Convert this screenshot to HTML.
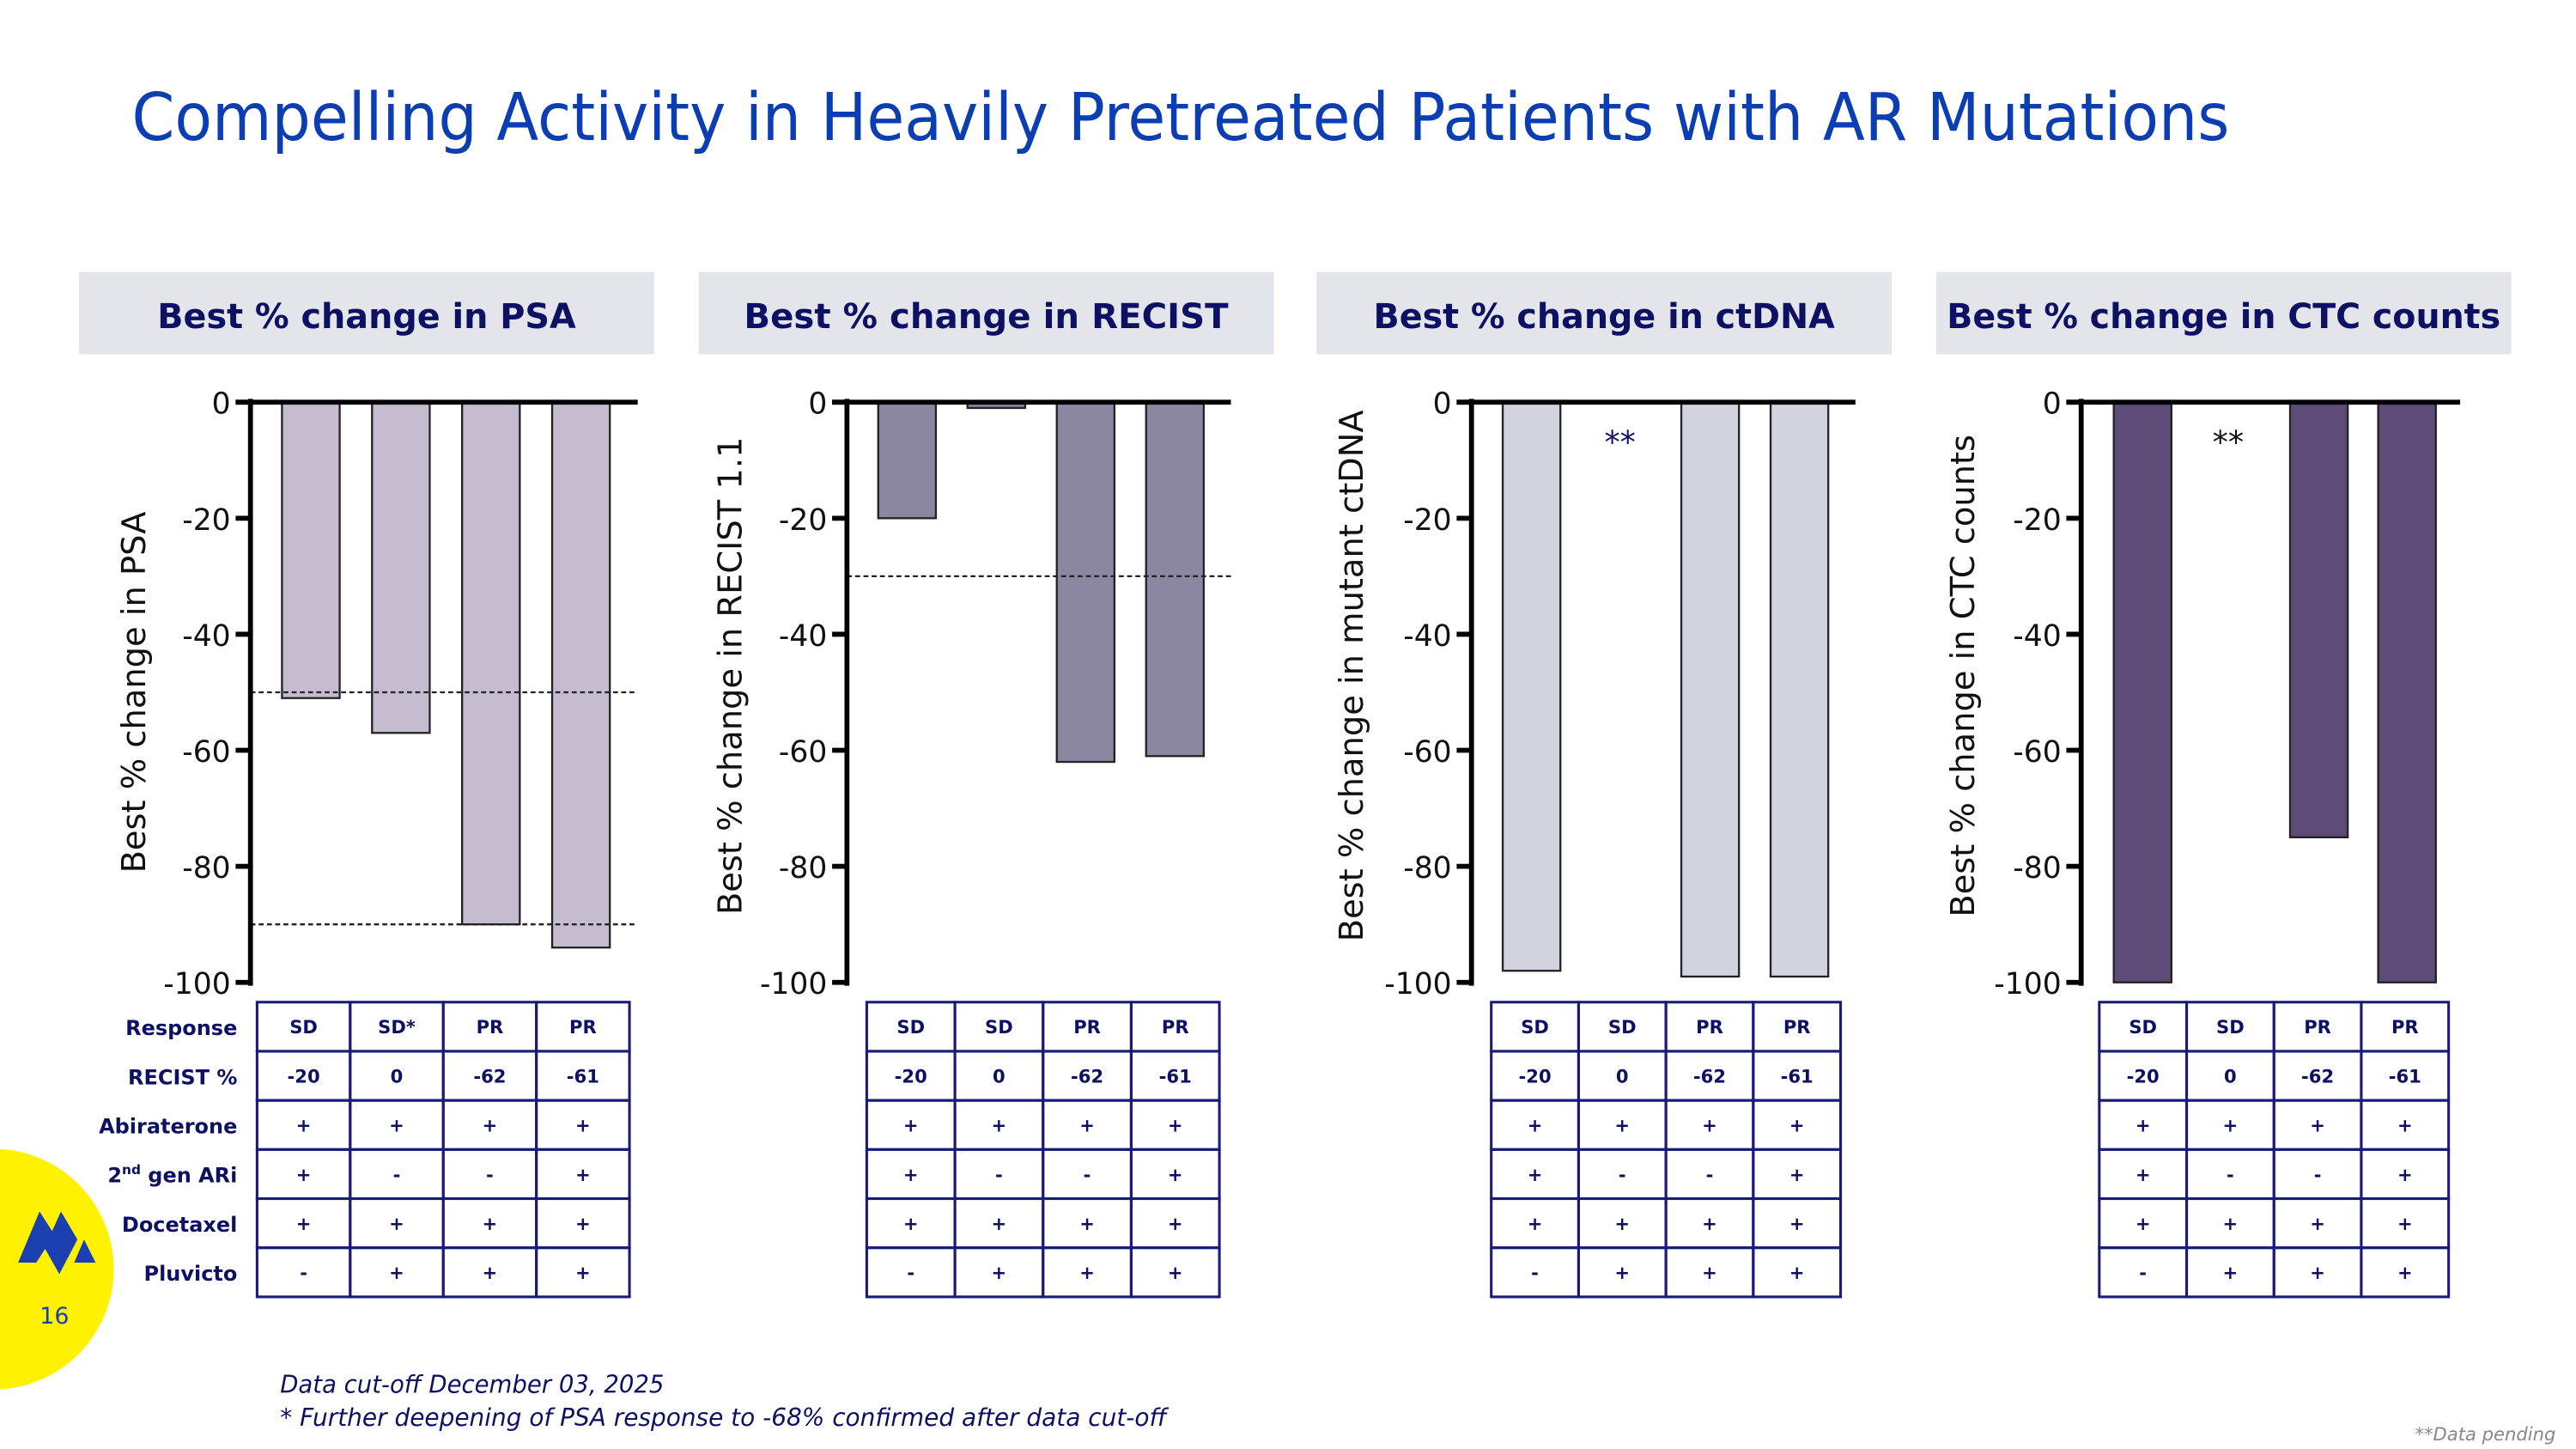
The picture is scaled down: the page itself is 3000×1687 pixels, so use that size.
<!DOCTYPE html>
<html><head><meta charset="utf-8"><style>
html,body{margin:0;padding:0;background:#fff;}
svg{display:block;}
text{font-family:"DejaVu Sans","Liberation Sans",sans-serif;}
</style></head><body>
<svg id="s" width="3000" height="1687" viewBox="0 0 1563.3 879.1" xmlns="http://www.w3.org/2000/svg">
<text x="80" y="85" font-size="40" fill="#0b3db3" textLength="1273" lengthAdjust="spacingAndGlyphs">Compelling Activity in Heavily Pretreated Patients with AR Mutations</text>
<circle cx="-4" cy="770" r="73" fill="#fff200"/>
<g fill="#1a3fb0">
<polygon points="11,766 24,735 33,749 22,766"/>
<polygon points="27,757 37,735 47,752 36,773"/>
<polygon points="45,766 51,752 58,766"/>
</g>
<text x="33" y="803" font-size="14" fill="#1a3fb0" text-anchor="middle">16</text>
<text x="170" y="845" font-size="15" font-style="italic" fill="#0d1163" textLength="233" lengthAdjust="spacingAndGlyphs">Data cut-off December 03, 2025</text>
<text x="170" y="865" font-size="15" font-style="italic" fill="#0d1163" textLength="538" lengthAdjust="spacingAndGlyphs">* Further deepening of PSA response to -68% confirmed after data cut-off</text>
<text x="1551" y="874" font-size="11" font-style="italic" fill="#888" text-anchor="end">**Data pending</text>
<g id="charts"></g>
</svg>
<script>
const titles=["Best % change in PSA","Best % change in RECIST","Best % change in ctDNA","Best % change in CTC counts"];
const titleLens=[254,294,280,336];
const yLabels=["Best % change in PSA","Best % change in RECIST 1.1","Best % change in mutant ctDNA","Best % change in CTC counts"];
const psaValues=[-51,-57,-90,-94];
const recistValues=[-20,-1,-62,-61];
const ctdnaValues=[-98,null,-99,-99];
const ctcValues=[-100,null,-75,-100];
const yTicks=[0,-20,-40,-60,-80,-100];
const psaRefLines=[-50,-90];
const recistRefLines=[-30];
const rowLabels=["Response","RECIST %","Abiraterone","2nd gen ARi","Docetaxel","Pluvicto"];
const responses=["SD","SD*","PR","PR"];
const responses2=["SD","SD","PR","PR"];
const recistPct=["-20","0","-62","-61"];
const abiraterone=["+","+","+","+"];
const secondGenARi=["+","-","-","+"];
const docetaxel=["+","+","+","+"];
const pluvicto=["-","+","+","+"];

const NS="http://www.w3.org/2000/svg";
const root=document.getElementById('charts');
function mk(tag,attrs,parent,text){const e=document.createElementNS(NS,tag);for(const k in attrs)e.setAttribute(k,attrs[k]);if(text!==undefined)e.textContent=text;(parent||root).appendChild(e);return e;}
const panels=[
 {hx:48,ax:152,end:387,vals:psaValues,refs:psaRefLines,color:"#c5bcd0",tx:156,tw:226,resp:responses,ylx:82,labels:true},
 {hx:424,ax:514,end:747,vals:recistValues,refs:recistRefLines,color:"#8b87a3",tx:526,tw:214,resp:responses2,ylx:444},
 {hx:799,ax:893,end:1126,vals:ctdnaValues,refs:[],color:"#d3d3de",tx:905,tw:212,resp:responses2,ylx:821,star:"#0d1163"},
 {hx:1175,ax:1263,end:1493,vals:ctcValues,refs:[],color:"#5e4b78",tx:1274,tw:212,resp:responses2,ylx:1192,star:"#111"}
];
const y0=244,y100=596;
const yS=v=>y0+(y100-y0)*(-v/100);
panels.forEach((p,i)=>{
 const g=mk('g',{});
 
 
 const hb=mk('rect',{x:p.hx,y:165,width:349,height:50,fill:"#e4e4eb"},g);
 
 
 const ht=mk('text',{x:p.hx+174.5,y:199,'font-size':21,'font-weight':'bold',fill:'#0d1163','text-anchor':'middle',textLength:titleLens[i],lengthAdjust:'spacingAndGlyphs'},g,titles[i]);
 
 
 const yl=mk('text',{x:0,y:0,'font-size':20,fill:'#111','text-anchor':'middle',transform:`translate(${p.ylx+6},${i==0?420:410}) rotate(-90)`},g,yLabels[i]);
 
 
 const slot=(p.end-p.ax)/4.3;
 p.vals.forEach((v,j)=>{
  if(v===null)return;
  const bx=p.ax+slot*0.35+slot*j+(i==3?slot*0.02:0);
  const b=mk('rect',{x:bx,y:y0,width:35,height:Math.max(yS(v)-y0,1),fill:p.color,stroke:'#222','stroke-width':1.2},g);
  
  
 });
 p.vals.forEach((v,j)=>{
  if(v!==null||!p.star)return;
  const st=mk('text',{x:p.ax+slot*0.35+slot*j+17,y:275,'font-size':19,fill:p.star,'text-anchor':'middle'},g,'**');
  
  
 });
 p.refs.forEach(r=>{
  const l=mk('line',{x1:p.ax,x2:p.end,y1:yS(r),y2:yS(r),stroke:'#222','stroke-width':1.2,'stroke-dasharray':'3,2'},g);
  
  
 });
 const ax=mk('line',{x1:p.ax,x2:p.ax,y1:y0-2,y2:y100+2,stroke:'#000','stroke-width':3},g);
 
 
 const zl=mk('line',{x1:p.ax-9,x2:p.end,y1:y0,y2:y0,stroke:'#000','stroke-width':3},g);
 
 
 yTicks.forEach(t=>{
  mk('line',{x1:p.ax-9,x2:p.ax,y1:yS(t),y2:yS(t),stroke:'#000','stroke-width':3},g);
  const tl=mk('text',{x:p.ax-12,y:yS(t)+7,'font-size':18,fill:'#111','text-anchor':'end'},g,String(t));
  
  
 });
 const rows=[p.resp,recistPct,abiraterone,secondGenARi,docetaxel,pluvicto];
 const top=608,rh=29.8,cw=p.tw/4;
 const tb=mk('g',{},g);
 
 
 rows.forEach((row,r)=>{
  row.forEach((c,k)=>{
   mk('rect',{x:p.tx+k*cw,y:top+r*rh,width:cw,height:rh,fill:'none',stroke:'#1a1a78','stroke-width':1.6},tb);
   const ct=mk('text',{x:p.tx+k*cw+cw/2,y:top+r*rh+19,'font-size':11,'font-weight':'bold',fill:'#0d1163','text-anchor':'middle'},tb,c);
   
   
  });
  if(p.labels){
   const lt=mk('text',{x:144,y:top+r*rh+20,'font-size':12.5,'font-weight':'bold',fill:'#0d1163','text-anchor':'end'},g);
   
   
   if(r===3){lt.textContent='2';mk('tspan',{'font-size':8,dy:-5},lt,'nd');mk('tspan',{dy:5},lt,' gen ARi');}
   else lt.textContent=rowLabels[r];
  }
 });
});
</script>
</body></html>
